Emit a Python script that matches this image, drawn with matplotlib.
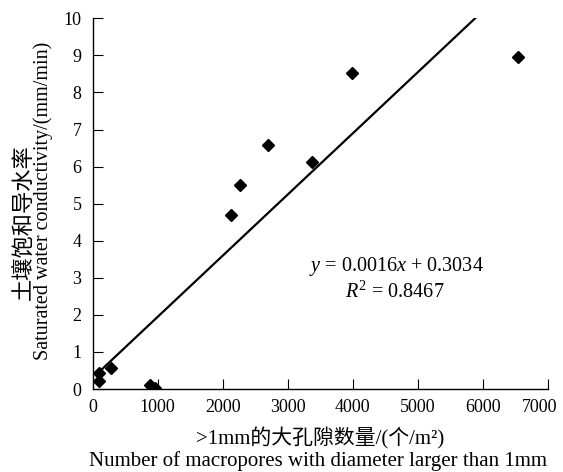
import matplotlib
matplotlib.use("Agg")
import matplotlib.pyplot as plt
import matplotlib.transforms as mtransforms
import numpy as np

# data
macropores = [90, 100, 280, 880, 960, 2130, 2270, 2700, 3370, 3985, 6540]
conductivity = [0.22, 0.42, 0.57, 0.12, 0.03, 4.69, 5.50, 6.58, 6.13, 8.52, 8.95]

# fitted line as drawn
slope = 0.00165
intercept = 0.30
line_x = [80, 5880]

x_ticks = [0, 1000, 2000, 3000, 4000, 5000, 6000, 7000]
y_ticks = list(range(0, 11))

serif = ["Liberation Serif", "Noto Sans CJK SC"]
plt.rcParams["font.family"] = serif
plt.rcParams["mathtext.fontset"] = "custom"
plt.rcParams["mathtext.rm"] = "Liberation Serif"
plt.rcParams["mathtext.it"] = "Liberation Serif:italic"

fig = plt.figure(figsize=(5.63, 4.72), dpi=100)
ax = fig.add_axes([0.1647, 0.1758, 0.8087, 0.7854])

ax.plot(macropores, conductivity, linestyle="none", marker="D",
        markersize=6, color="black")
lx = np.array(line_x)
ax.plot(lx, slope * lx + intercept, color="black", linewidth=1.6)

ax.set_xlim(0, 7000)
ax.set_ylim(0, 10)
ax.set_xticks(x_ticks)
ax.set_yticks(y_ticks)
ax.tick_params(direction="in", length=7, width=0.8, labelsize=13)
ax.tick_params(axis="x", pad=7)
ax.tick_params(axis="y", pad=8)
ax.spines["top"].set_visible(False)
ax.spines["right"].set_visible(False)
for s in ("left", "bottom"):
    ax.spines[s].set_linewidth(1.0)

# last x label sits a little left of its tick, as in the original
last = ax.get_xticklabels()[-1]
last.set_transform(last.get_transform() +
                   mtransforms.ScaledTranslation(-8 / 100, 0, fig.dpi_scale_trans))

# equation
ax.text(396 / 563, 1 - 267 / 472, r"$y$ = 0.0016$x$ + 0.3034",
        transform=fig.transFigure, ha="center", va="center", fontsize=14.5)
ax.text(395 / 563, 1 - 292 / 472, r"$R^2$ = 0.8467",
        transform=fig.transFigure, ha="center", va="center", fontsize=14.5)

# axis labels
fig.text(24 / 563, 1 - 222 / 472, "土壤饱和导水率", rotation=90,
         ha="center", va="center", fontsize=16, family=serif)
fig.text(43 / 563, 1 - 201 / 472, "Saturated water conductivity/(mm/min)",
         rotation=90, ha="center", va="center", fontsize=14.5, family=serif)
fig.text(320 / 563, 1 - 438 / 472, ">1mm的大孔隙数量/(个/m²)",
         ha="center", va="center", fontsize=15, family=serif)
fig.text(318 / 563, 1 - 461 / 472,
         "Number of macropores with diameter larger than 1mm",
         ha="center", va="center", fontsize=15, family=serif)

fig.savefig("out.png", dpi=100)
plt.close(fig)
